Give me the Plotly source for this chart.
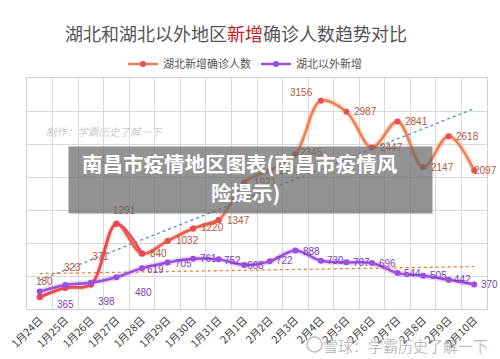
import numpy as np
import plotly.graph_objects as go

dates = ["1月24日", "1月25日", "1月26日", "1月27日", "1月28日", "1月29日", "1月30日",
         "1月31日", "2月1日", "2月2日", "2月3日", "2月4日", "2月5日", "2月6日",
         "2月7日", "2月8日", "2月9日", "2月10日"]
hubei = [180, 323, 371, 1291, 840, 1032, 1220, 1347, 1921, 2103, 2345, 3156,
         2987, 2447, 2841, 2147, 2618, 2097]
outside = [264, 365, 398, 480, 619, 705, 761, 752, 668, 722, 888, 730, 707,
           696, 544, 505, 442, 370]
outside_labeled = [False] + [True] * 17

# label pixel offsets (dx right, dy up)
hubei_off = [(5, 16), (7, 20), (10, 28), (8, 13), (16, 0), (20, 0), (19, 1), (20, 0),
             (21, 0), (21, 0), (16, 2), (-19, 8), (19, 0), (19, 0), (19, 0), (19, 0),
             (19, 0), (11, 0)]
out_off = [(0, 0), (0, -20), (16, -19), (27, -15), (13, -1), (16, -1), (15, 0), (14, -1),
           (11, -1), (15, 1), (16, -1), (15, 0), (15, 0), (15, 0), (15, 0), (15, 0),
           (14, 0), (15, 0)]

idx = np.arange(len(dates))
hb_fit = np.polyval(np.polyfit(idx, hubei, 1), idx)
out_fit = np.polyval(np.polyfit(idx, outside, 1), idx)

RED = "#e8485a"
ORANGE = "#ee7c4c"
PURPLE = "#9a4fe0"

L, R, T, B = 27, 487, 78, 309
def px(x):
    return (x - L) / (R - L)
def py(y):
    return (B - y) / (B - T)

fig = go.Figure()

# glow
fig.add_trace(go.Scatter(x=dates, y=hubei, mode="lines", line=dict(color="rgba(238,124,76,0.22)", width=6, shape="spline"),
                         showlegend=False, hoverinfo="skip"))
fig.add_trace(go.Scatter(x=dates, y=outside, mode="lines", line=dict(color="rgba(154,79,224,0.22)", width=6, shape="spline"),
                         showlegend=False, hoverinfo="skip"))

# trend lines
fig.add_trace(go.Scatter(x=dates, y=hb_fit, mode="lines", line=dict(color="#4a8fd0", width=1.3, dash="dot"),
                         showlegend=False, hoverinfo="skip"))
fig.add_trace(go.Scatter(x=dates, y=out_fit, mode="lines", line=dict(color="#ed7d31", width=1.3, dash="dot"),
                         showlegend=False, hoverinfo="skip"))

fig.add_trace(go.Scatter(x=dates, y=hubei, mode="lines+markers", name="湖北新增确诊人数",
                         line=dict(color=ORANGE, width=2.5, shape="spline"),
                         marker=dict(color="#e8504f", size=6)))
fig.add_trace(go.Scatter(x=dates[:8], y=hubei[:8], mode="lines+markers",
                         line=dict(color="#ea5f55", width=2.5, shape="spline"),
                         marker=dict(color="#e8504f", size=6), showlegend=False, hoverinfo="skip"))
fig.add_trace(go.Scatter(x=dates[:5], y=hubei[:5], mode="lines+markers",
                         line=dict(color=RED, width=2.5, shape="spline"),
                         marker=dict(color="#e8465a", size=6), showlegend=False, hoverinfo="skip"))
fig.add_trace(go.Scatter(x=dates, y=outside, mode="lines+markers", name="湖北以外新增",
                         line=dict(color=PURPLE, width=2.5, shape="spline"),
                         marker=dict(color=PURPLE, size=6)))

ann = []
for d, v, (dx, dy) in zip(dates, hubei, hubei_off):
    ann.append(dict(x=d, y=v, text=str(v), showarrow=False, xshift=dx, yshift=dy,
                    xanchor="center", yanchor="middle",
                    font=dict(size=10, color="#b5573a", family="Liberation Sans, Arial")))
for d, v, lab, (dx, dy) in zip(dates, outside, outside_labeled, out_off):
    if lab:
        ann.append(dict(x=d, y=v, text=str(v), showarrow=False, xshift=dx, yshift=dy,
                        xanchor="center", yanchor="middle",
                        font=dict(size=10, color="#7b3fb5", family="Liberation Sans, Arial")))

# top watermark
ann.append(dict(xref="paper", yref="paper", x=px(104), y=py(131), xanchor="center", yanchor="middle",
                text="<i>制作：学霸历史了解一下</i>", showarrow=False,
                font=dict(size=10.5, color="#cdcdcd", family="Noto Sans CJK SC")))

# banner
ann.append(dict(xref="paper", yref="paper", x=px(68), y=py(146),
                xanchor="left", yanchor="top", text=" ", showarrow=False,
                width=363, height=66, bgcolor="rgba(105,105,105,0.72)", borderpad=0))
ann.append(dict(xref="paper", yref="paper", x=px(240), y=py(163), xanchor="center", yanchor="middle",
                text="<b>南昌市疫情地区图表(南昌市疫情风</b>", showarrow=False,
                font=dict(size=20.5, color="white", family="Noto Sans CJK SC")))
ann.append(dict(xref="paper", yref="paper", x=px(245), y=py(192), xanchor="center", yanchor="middle",
                text="<b>险提示)</b>", showarrow=False,
                font=dict(size=20.5, color="white", family="Noto Sans CJK SC")))

# title
ann.append(dict(xref="paper", yref="paper", x=px(236), y=py(33), xanchor="center", yanchor="middle",
                text="湖北和湖北以外地区<span style='color:#c0202a'>新增</span>确诊人数趋势对比",
                showarrow=False, font=dict(size=18, color="#555555", family="Noto Sans CJK SC")))

# bottom watermark
ann.append(dict(xref="paper", yref="paper", x=px(405), y=py(345), xanchor="center", yanchor="middle",
                text="雪球：学霸历史了解一下", showarrow=False,
                font=dict(size=15, color="rgba(150,150,150,0.65)", family="Noto Sans CJK SC")))

shapes = [dict(type="circle", xref="paper", yref="paper",
               x0=px(307), x1=px(322), y0=py(352), y1=py(337),
               line=dict(color="rgba(150,150,150,0.65)", width=1.5))]

fig.update_layout(
    width=500, height=359,
    margin=dict(l=L, r=500 - R, t=T, b=359 - B, autoexpand=False),
    paper_bgcolor="white", plot_bgcolor="white",
    showlegend=True,
    legend=dict(orientation="h", x=px(245), xanchor="center", y=py(64), yanchor="middle",
                font=dict(size=11, color="#555555", family="Noto Sans CJK SC"),
                itemwidth=30, bgcolor="rgba(0,0,0,0)"),
    annotations=ann,
    shapes=shapes,
    font=dict(family="Noto Sans CJK SC"),
)
fig.update_xaxes(type="category", tickangle=-45, tickson="boundaries", showgrid=True, automargin=False,
                 gridcolor="#d9d9d9", gridwidth=1, showline=True, linecolor="#d0d0d0", mirror=True,
                 tickfont=dict(size=10.5, color="#404040", family="Noto Sans CJK SC"), ticks="",
                 range=[-0.5, 17.5])
fig.update_yaxes(range=[0, 3500], dtick=500, showticklabels=False, showgrid=True, automargin=False,
                 gridcolor="#d9d9d9", gridwidth=1, showline=True, linecolor="#d0d0d0", mirror=True,
                 zeroline=False)

fig.write_html("out.html", config={"displayModeBar": False},
               post_script="document.body.style.margin='0';document.body.style.overflow='hidden';")
